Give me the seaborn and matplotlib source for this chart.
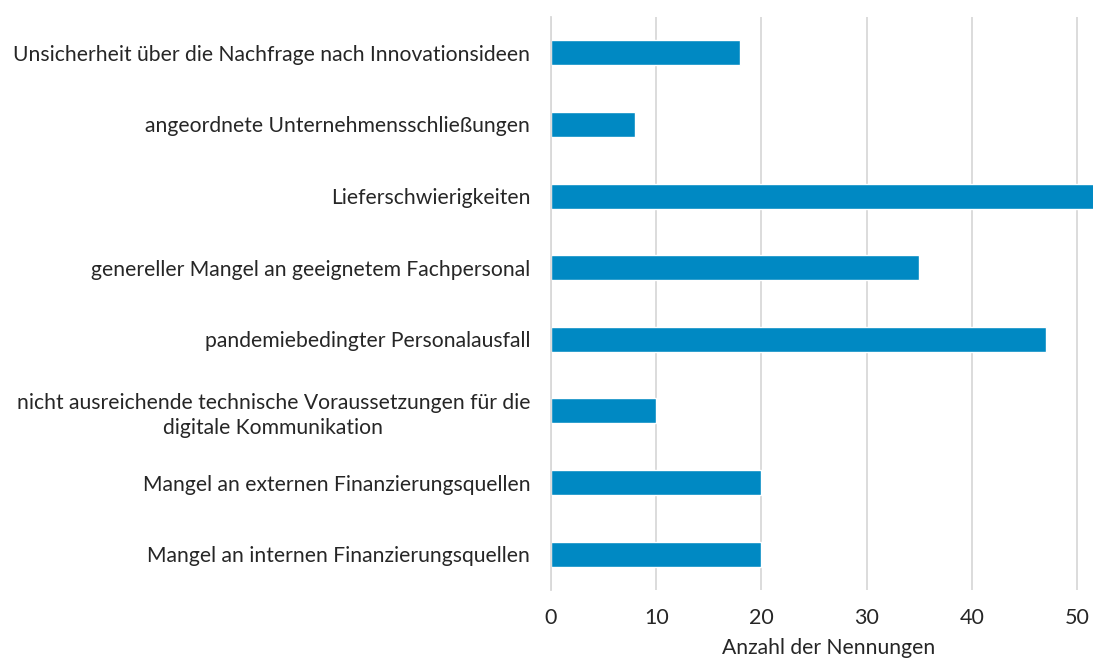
import matplotlib
matplotlib.use("Agg")
import matplotlib.pyplot as plt
import seaborn as sns
import pandas as pd

categories = [
    "Unsicherheit über die Nachfrage nach Innovationsideen",
    "angeordnete Unternehmensschließungen",
    "Lieferschwierigkeiten",
    "genereller Mangel an geeignetem Fachpersonal",
    "pandemiebedingter Personalausfall",
    "nicht ausreichende technische Voraussetzungen für die\ndigitale Kommunikation",
    "Mangel an externen Finanzierungsquellen",
    "Mangel an internen Finanzierungsquellen",
]
counts = [18, 8, 55, 35, 47, 10, 20, 20]
x_ticks = [0, 10, 20, 30, 40, 50]

df = pd.DataFrame({"grund": categories, "anzahl": counts})

sns.set_style("white")
plt.rcParams["font.family"] = ["Lato", "DejaVu Sans"]

fig = plt.figure(figsize=(10.93, 6.59), dpi=100)
ax = fig.add_axes([551 / 1093, 1 - 590 / 659, 1 - 551 / 1093, (590 - 17) / 659])

sns.barplot(data=df, x="anzahl", y="grund", color="#0089C3", saturation=1,
            width=0.35, ax=ax)

ax.set_xlim(0, 51.5)
ax.set_xticks(x_ticks)
ax.xaxis.grid(True, color="#D9D9D9", linewidth=1.3)
ax.set_axisbelow(True)
for s in ["top", "right", "bottom"]:
    ax.spines[s].set_visible(False)
ax.spines["left"].set_color("#D9D9D9")
ax.spines["left"].set_linewidth(1.3)

ax.tick_params(axis="y", length=0, pad=15, labelsize=15.2, labelcolor="#262626")
ax.tick_params(axis="x", length=0, pad=13, labelsize=15.5, labelcolor="#262626")
for lab in ax.get_yticklabels():
    lab.set_multialignment("center")
    lab.set_linespacing(1.3)

ax.set_ylabel("")
ax.set_xlabel("Anzahl der Nennungen", fontsize=15.2, color="#262626")
ax.xaxis.set_label_coords(0.513, -0.118)
ax.xaxis.label.set_verticalalignment("bottom")

fig.savefig("out.png", dpi=100)
